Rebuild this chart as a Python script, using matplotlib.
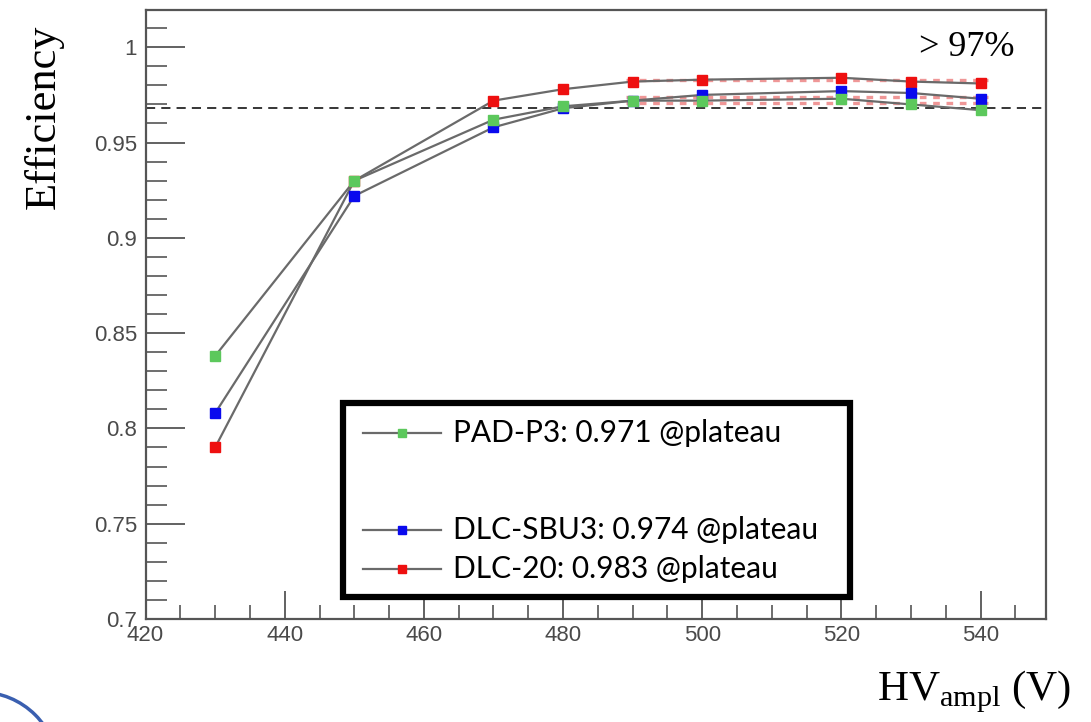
import matplotlib.pyplot as plt
from matplotlib.patches import Rectangle, Arc
from matplotlib.ticker import MultipleLocator

# HV_ampl values (V)
hv = [430, 450, 470, 480, 490, 500, 520, 530, 540]

# efficiency per detector
eff_pad = [0.838, 0.930, 0.962, 0.969, 0.972, 0.972, 0.973, 0.970, 0.967]
eff_sbu3 = [0.808, 0.922, 0.958, 0.968, 0.972, 0.975, 0.977, 0.976, 0.973]
eff_dlc20 = [0.790, 0.930, 0.972, 0.978, 0.982, 0.983, 0.984, 0.982, 0.981]

labels = ["PAD-P3: 0.971 @plateau", "DLC-SBU3: 0.974 @plateau", "DLC-20: 0.983 @plateau"]
plateaus = [0.971, 0.974, 0.983]
threshold = 0.968

yticks = [0.7, 0.75, 0.8, 0.85, 0.9, 0.95, 1.0]
ytick_labels = ["0.7", "0.75", "0.8", "0.85", "0.9", "0.95", "1"]
xticks = [420, 440, 460, 480, 500, 520, 540]

fig = plt.figure(figsize=(10.91, 7.22), dpi=100)
ax = fig.add_axes([0.1334, 0.1427, 0.8254, 0.8433])

colors = ['#5cc85c', '#0a0aee', '#ee1010']
series = [eff_pad, eff_sbu3, eff_dlc20]

# plateau fits (faint red dashes)
for p in plateaus:
    ax.plot([489, 541], [p, p], color='#e03030', ls=(0, (2, 2)), lw=2.4, alpha=0.5, zorder=2)

# red first, green last so green sits on top where they overlap
for ys, c, z in zip(series, colors, [6, 5, 4]):
    ax.plot(hv, ys, color='#6a6a6a', lw=1.6, zorder=3)
    ax.plot(hv, ys, ls='none', marker='s', ms=6.5, mfc=c, mec=c, zorder=z)

ax.axhline(threshold, color='black', ls=(0, (6, 4)), lw=1.1, zorder=2)

ax.set_xlim(420, 549.4)
ax.set_ylim(0.7, 1.0195)
ax.set_xticks(xticks)
ax.set_yticks(yticks)
ax.set_yticklabels(ytick_labels)
ax.xaxis.set_minor_locator(MultipleLocator(5))
ax.yaxis.set_minor_locator(MultipleLocator(0.01))

for s in ax.spines.values():
    s.set_color('#555555')
    s.set_linewidth(1.6)

ax.tick_params(axis='x', which='major', direction='in', length=20, width=1.3, color='#555555',
               labelsize=16, labelcolor='#4a4a4a', pad=4)
ax.tick_params(axis='x', which='minor', direction='in', length=10, width=1.2, color='#555555')
ax.tick_params(axis='y', which='major', direction='in', length=28, width=1.3, color='#555555',
               labelsize=16, labelcolor='#4a4a4a', pad=6)
ax.tick_params(axis='y', which='minor', direction='in', length=15, width=1.2, color='#555555')
for lab in ax.get_xticklabels() + ax.get_yticklabels():
    lab.set_family('Liberation Sans')

# legend box drawn by hand
ax.add_patch(Rectangle((448.4, 0.7114), 72.8, 0.1017, fill=True, facecolor='white',
                       edgecolor='black', lw=4.5, zorder=7))
leg_y = [0.7975, 0.7465, 0.7260]
for y, c, lab in zip(leg_y, colors, labels):
    ax.plot([451.3, 462.4], [y, y], color='#6a6a6a', lw=1.6, zorder=8)
    ax.plot([456.8], [y], ls='none', marker='s', ms=6, mfc=c, mec=c, zorder=9)
    ax.text(464.2, y, lab, fontsize=21.5, family='Lato', va='center', ha='left', zorder=9)

ax.text(538, 1.0, '> 97%', fontsize=26, family='Liberation Serif', va='center', ha='center')

fig.text(0.04, 0.838, 'Efficiency', rotation=90, fontsize=32, family='Liberation Serif',
         ha='center', va='center')
fig.text(0.893, 0.042, r'HV$_{\mathregular{ampl}}$ (V)', fontsize=31, family='Liberation Serif',
         ha='center', va='center')

# blue decoration at bottom-left corner
fig.patches.append(Arc((-0.0183, -0.0665), 0.143, 0.216, theta1=0, theta2=90,
                       transform=fig.transFigure, color='#3a5fb0', lw=2.5, figure=fig))

fig.savefig('out.png', dpi=100)
